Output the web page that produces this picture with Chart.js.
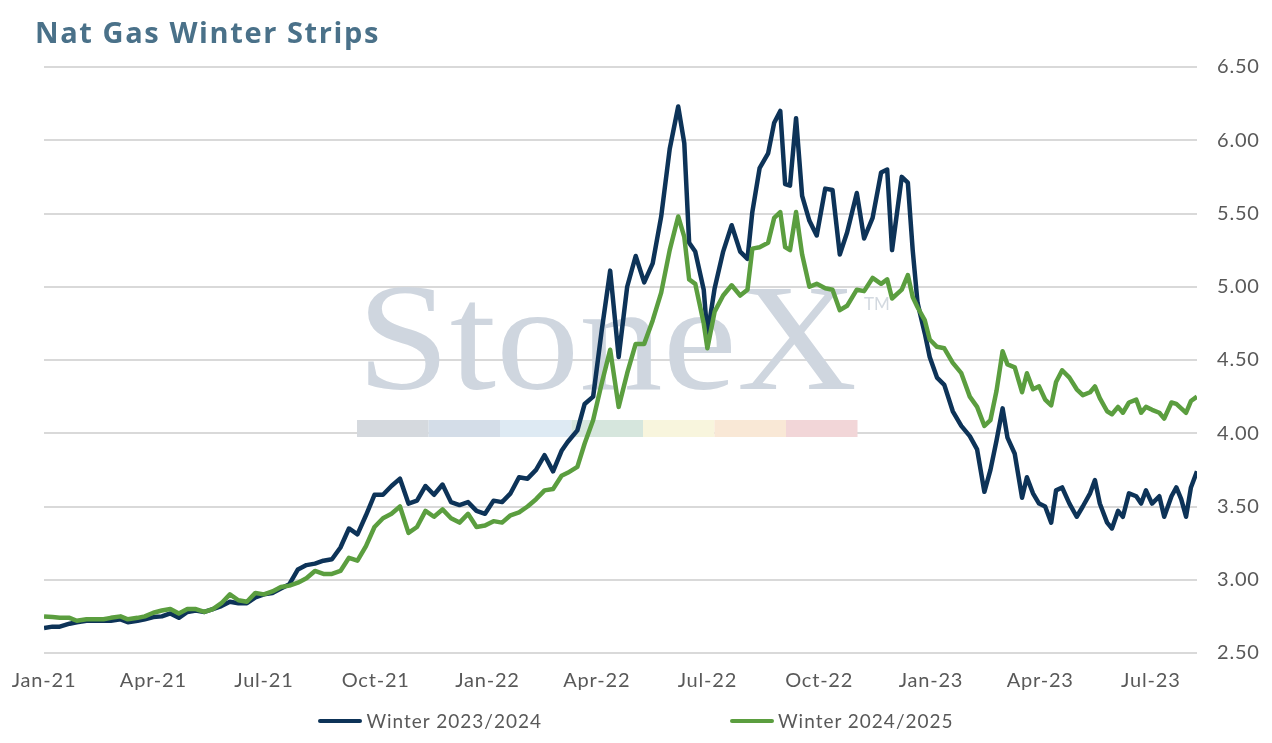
<!DOCTYPE html>
<html>
<head>
<meta charset="utf-8">
<script src="https://cdn.jsdelivr.net/npm/chart.js@4"></script>
<style>
  body { margin: 0; background: #fff; font-family: Lato, sans-serif; }
  #wrap { position: relative; width: 1272px; height: 743px; }
  #title { position: absolute; left: 35px; top: 12px; font-family: "Open Sans", sans-serif; font-size: 29px; line-height: 1.362; font-weight: 700; color: #4a7189; letter-spacing: 1.6px; }
  #legend { position: absolute; left: 0; width: 1272px; top: 709px; display: flex; justify-content: center; gap: 188px; font-size: 19px; letter-spacing: 1px; color: #595959; }
  .item { display: flex; align-items: center; }
  .swatch { width: 44px; height: 4px; border-radius: 2px; margin-right: 4px; }
</style>
</head>
<body>
<div id="wrap">
  <div id="title">Nat Gas Winter Strips</div>
  <canvas id="chart" width="1272" height="743"></canvas>
  <div id="legend"></div>
</div>
<script>
// days since 1 Jan 2021 for each sample
let days = [0, 7, 13, 21, 27, 35, 41, 49, 55, 63, 69, 77, 83, 90, 97, 104, 111, 118, 125, 132,
    139, 146, 153, 160, 167, 174, 181, 188, 195, 202, 209, 216, 223, 230, 237, 244, 251, 258, 265, 272,
    279, 286, 293, 300, 307, 314, 321, 328, 335, 342, 349, 356, 363, 370, 377, 384, 391, 398, 405, 412,
    419, 426, 431, 439, 445, 452, 459, 466, 473, 480, 487, 494, 501, 508, 515, 522, 527, 531, 536, 543,
    546, 552, 559, 566, 573, 579, 583, 589, 596, 601, 606, 610, 614, 619, 624, 630, 636, 643, 649, 655,
    661, 669, 675, 682, 689, 694, 698, 706, 711, 715, 719, 725, 729, 735, 741, 748, 755, 762, 768, 774,
    779, 784, 789, 793, 799, 805, 809, 814, 819, 824, 829, 833, 838, 844, 850, 855, 861, 865, 869, 875,
    879, 884, 888, 893, 899, 903, 907, 912, 918, 922, 928, 932, 936, 940, 944, 949];

let winter2324 = [2.67, 2.68, 2.68, 2.70, 2.71, 2.72, 2.72, 2.72, 2.72, 2.73, 2.71, 2.72, 2.73, 2.745, 2.75, 2.77, 2.74, 2.78, 2.79, 2.78,
    2.80, 2.82, 2.85, 2.84, 2.84, 2.88, 2.90, 2.91, 2.94, 2.97, 3.07, 3.10, 3.11, 3.13, 3.14, 3.22, 3.35, 3.31, 3.44, 3.58,
    3.58, 3.64, 3.69, 3.52, 3.54, 3.64, 3.58, 3.65, 3.53, 3.51, 3.53, 3.47, 3.45, 3.54, 3.53, 3.59, 3.70, 3.69, 3.75, 3.85,
    3.74, 3.88, 3.94, 4.02, 4.20, 4.25, 4.70, 5.11, 4.52, 5.00, 5.21, 5.03, 5.16, 5.48, 5.94, 6.23, 5.98, 5.30, 5.24, 4.98,
    4.67, 4.99, 5.24, 5.42, 5.24, 5.19, 5.51, 5.81, 5.91, 6.12, 6.20, 5.70, 5.69, 6.15, 5.62, 5.45, 5.35, 5.67, 5.66, 5.22,
    5.37, 5.64, 5.33, 5.47, 5.78, 5.80, 5.25, 5.75, 5.71, 5.25, 4.89, 4.68, 4.52, 4.38, 4.33, 4.15, 4.05, 3.98, 3.89, 3.60,
    3.75, 3.95, 4.17, 3.97, 3.86, 3.56, 3.70, 3.59, 3.52, 3.50, 3.39, 3.61, 3.63, 3.52, 3.43, 3.50, 3.59, 3.68, 3.52, 3.39,
    3.35, 3.47, 3.43, 3.59, 3.57, 3.52, 3.61, 3.52, 3.57, 3.43, 3.57, 3.63, 3.55, 3.43, 3.63, 3.74];

let winter2425 = [2.75, 2.745, 2.74, 2.74, 2.72, 2.73, 2.73, 2.73, 2.74, 2.75, 2.73, 2.74, 2.75, 2.775, 2.79, 2.80, 2.77, 2.80, 2.80, 2.78,
    2.80, 2.84, 2.90, 2.86, 2.85, 2.91, 2.90, 2.92, 2.95, 2.96, 2.98, 3.01, 3.06, 3.04, 3.04, 3.06, 3.15, 3.13, 3.23, 3.36,
    3.42, 3.45, 3.50, 3.32, 3.36, 3.47, 3.43, 3.48, 3.42, 3.39, 3.45, 3.36, 3.37, 3.40, 3.39, 3.44, 3.46, 3.50, 3.55, 3.61,
    3.62, 3.71, 3.73, 3.77, 3.93, 4.09, 4.34, 4.57, 4.18, 4.41, 4.61, 4.61, 4.77, 4.96, 5.25, 5.48, 5.34, 5.05, 5.02, 4.75,
    4.58, 4.83, 4.94, 5.01, 4.94, 4.98, 5.26, 5.27, 5.30, 5.47, 5.51, 5.27, 5.25, 5.51, 5.22, 5.00, 5.02, 4.99, 4.98, 4.84,
    4.87, 4.98, 4.97, 5.06, 5.02, 5.05, 4.92, 4.98, 5.08, 4.93, 4.86, 4.77, 4.64, 4.59, 4.58, 4.48, 4.41, 4.25, 4.18, 4.05,
    4.09, 4.29, 4.56, 4.47, 4.45, 4.28, 4.41, 4.30, 4.32, 4.23, 4.19, 4.35, 4.43, 4.38, 4.30, 4.26, 4.28, 4.32, 4.24, 4.15,
    4.13, 4.18, 4.14, 4.21, 4.23, 4.14, 4.18, 4.16, 4.14, 4.10, 4.21, 4.20, 4.17, 4.14, 4.22, 4.25];

let tickDays = [0, 90, 181, 273, 365, 455, 546, 638, 730, 820, 911];
let tickLabels = ["Jan-21", "Apr-21", "Jul-21", "Oct-21", "Jan-22", "Apr-22", "Jul-22", "Oct-22", "Jan-23", "Apr-23", "Jul-23"];

let seriesNames = ["Winter 2023/2024", "Winter 2024/2025"];
let seriesColors = ["#0d3358", "#5b9e3f"];

// slightly wider tick text
let spacingPlugin = {
    id: "spacing",
    beforeUpdate(chart) { chart.ctx.letterSpacing = "0.8px"; },
    beforeDraw(chart) { chart.ctx.letterSpacing = "0.8px"; }
};

// faint logo behind the lines
let logoPlugin = {
    id: "logo",
    beforeDatasetsDraw(chart) {
        let ctx = chart.ctx;
        ctx.save();
        ctx.letterSpacing = "0px";
        ctx.fillStyle = "#cfd6df";
        ctx.font = "152px 'Liberation Serif'";
        ctx.textBaseline = "alphabetic";
        let w = ctx.measureText("StoneX").width;
        ctx.translate(357, 389);
        ctx.scale(500 / w, 1);
        ctx.fillText("StoneX", 0, 0);
        ctx.restore();
        ctx.save();
        ctx.letterSpacing = "0px";
        ctx.fillStyle = "#d3d9e0";
        ctx.font = "17px Lato";
        ctx.fillText("TM", 864, 310);
        let bars = ["#d5d9de", "#d4dde8", "#deeaf3", "#d6e6dd", "#f8f5dd", "#f9e8d6", "#f2d6d8"];
        bars.forEach((c, i) => {
            ctx.fillStyle = c;
            ctx.fillRect(357 + i * 71.5, 420, 71.5, 17);
        });
        ctx.restore();
    }
};

let ctx = document.getElementById("chart").getContext("2d");

new Chart(ctx, {
    type: "line",
    data: {
        datasets: [
            {
                label: seriesNames[1],
                data: days.map((d, i) => ({ x: d, y: winter2425[i] })),
                borderColor: seriesColors[1],
                borderWidth: 4.5,
                pointRadius: 0,
                borderJoinStyle: "round"
            },
            {
                label: seriesNames[0],
                data: days.map((d, i) => ({ x: d, y: winter2324[i] })),
                borderColor: seriesColors[0],
                borderWidth: 4.5,
                pointRadius: 0,
                borderJoinStyle: "round"
            }
        ]
    },
    options: {
        responsive: false,
        animation: false,
        layout: { padding: { left: 44, right: 0, top: 67, bottom: 50 } },
        plugins: {
            legend: { display: false },
            tooltip: { enabled: false }
        },
        scales: {
            x: {
                type: "linear",
                min: 0,
                max: 949,
                grid: { display: false },
                border: { display: false },
                afterBuildTicks: axis => { axis.ticks = tickDays.map(v => ({ value: v })); },
                afterFit: axis => { axis.height = 40; },
                ticks: {
                    autoSkip: false,
                    maxRotation: 0,
                    padding: 8,
                    color: "#595959",
                    font: { family: "Lato", size: 20 },
                    callback: (v, i) => tickLabels[i]
                }
            },
            y: {
                position: "right",
                min: 2.5,
                max: 6.5,
                grid: { color: "#d9d9d9", lineWidth: 2, drawTicks: false },
                border: { display: false },
                afterFit: axis => { axis.width = 75; },
                ticks: {
                    stepSize: 0.5,
                    padding: 20,
                    color: "#595959",
                    font: { family: "Lato", size: 20 },
                    callback: v => v.toFixed(2)
                }
            }
        }
    },
    plugins: [spacingPlugin, logoPlugin]
});

let legend = document.getElementById("legend");
seriesNames.forEach((name, i) => {
    let item = document.createElement("div");
    item.className = "item";
    item.innerHTML = '<span class="swatch" style="background:' + seriesColors[i] + '"></span>' + name;
    legend.appendChild(item);
});
</script>
</body>
</html>
